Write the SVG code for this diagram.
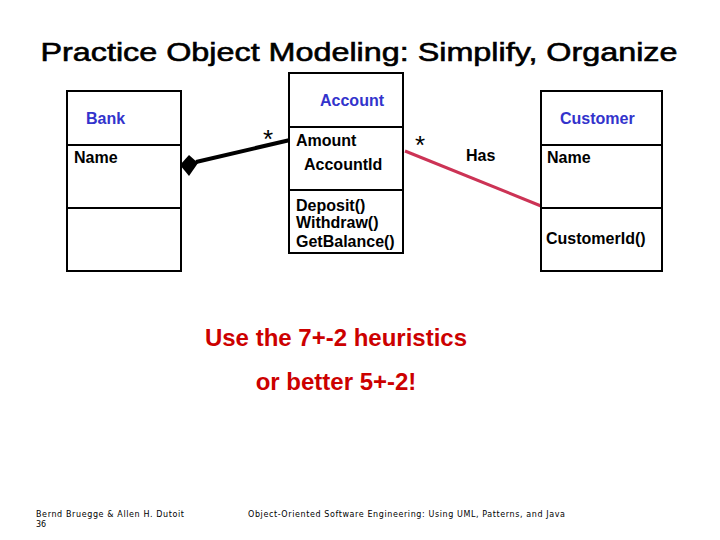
<svg xmlns="http://www.w3.org/2000/svg" width="720" height="540" viewBox="0 0 720 540">
<style>
.box{fill:#fff;stroke:#000;stroke-width:2}
.t{font-family:"Liberation Sans",Arial,sans-serif;font-weight:bold;font-size:16px;fill:#000}
.n{fill:#3333cc}
.r{fill:#cc0000;font-size:24px}
.f{font-family:"DejaVu Sans",sans-serif;font-size:8px;fill:#000}
</style>
<rect width="720" height="540" fill="#fff"/>
<text x="359" y="61" text-anchor="middle" font-family="Liberation Sans,Arial,sans-serif" font-size="26" textLength="637" lengthAdjust="spacingAndGlyphs" stroke="#000" stroke-width="0.6">Practice Object Modeling: Simplify, Organize</text>
<g id="connectors">
<line x1="196" y1="162" x2="290" y2="140" stroke="#000" stroke-width="4"/>
<polygon points="180,165 189,155 198,163 189,176" fill="#000"/>
<line x1="405" y1="151" x2="541" y2="206" stroke="#cc3355" stroke-width="3"/>
<text x="263" y="148" font-family="Liberation Sans,Arial,sans-serif" font-size="26">*</text>
<text x="415" y="154" font-family="Liberation Sans,Arial,sans-serif" font-size="26">*</text>
<text class="t" x="466" y="161">Has</text>
</g>
<g id="bank">
<rect class="box" x="67" y="91" width="114" height="180"/>
<line x1="67" y1="145" x2="181" y2="145" stroke="#000" stroke-width="2"/>
<line x1="67" y1="208" x2="181" y2="208" stroke="#000" stroke-width="2"/>
<text class="t n" x="86" y="124">Bank</text>
<text class="t" x="74" y="163">Name</text>
</g>
<g id="account">
<rect class="box" x="289" y="73" width="114" height="180"/>
<line x1="289" y1="127" x2="403" y2="127" stroke="#000" stroke-width="2"/>
<line x1="289" y1="190" x2="403" y2="190" stroke="#000" stroke-width="2"/>
<text class="t n" x="320" y="106">Account</text>
<text class="t" x="296" y="146">Amount</text>
<text class="t" x="304" y="170">AccountId</text>
<text class="t" x="296" y="211">Deposit()</text>
<text class="t" x="296" y="228">Withdraw()</text>
<text class="t" x="296" y="247">GetBalance()</text>
</g>
<g id="customer">
<rect class="box" x="541" y="91" width="121" height="180"/>
<line x1="541" y1="145" x2="662" y2="145" stroke="#000" stroke-width="2"/>
<line x1="541" y1="208" x2="662" y2="208" stroke="#000" stroke-width="2"/>
<text class="t n" x="560" y="124">Customer</text>
<text class="t" x="547" y="163">Name</text>
<text class="t" x="546" y="244">CustomerId()</text>
</g>
<text class="t r" x="336" y="346" text-anchor="middle">Use the 7+-2 heuristics</text>
<text class="t r" x="336" y="390" text-anchor="middle">or better 5+-2!</text>
<text class="f" x="36" y="517" textLength="148">Bernd Bruegge &amp; Allen H. Dutoit</text>
<text class="f" x="36" y="527">36</text>
<text class="f" x="248" y="517" textLength="317">Object-Oriented Software Engineering: Using UML, Patterns, and Java</text>
</svg>
